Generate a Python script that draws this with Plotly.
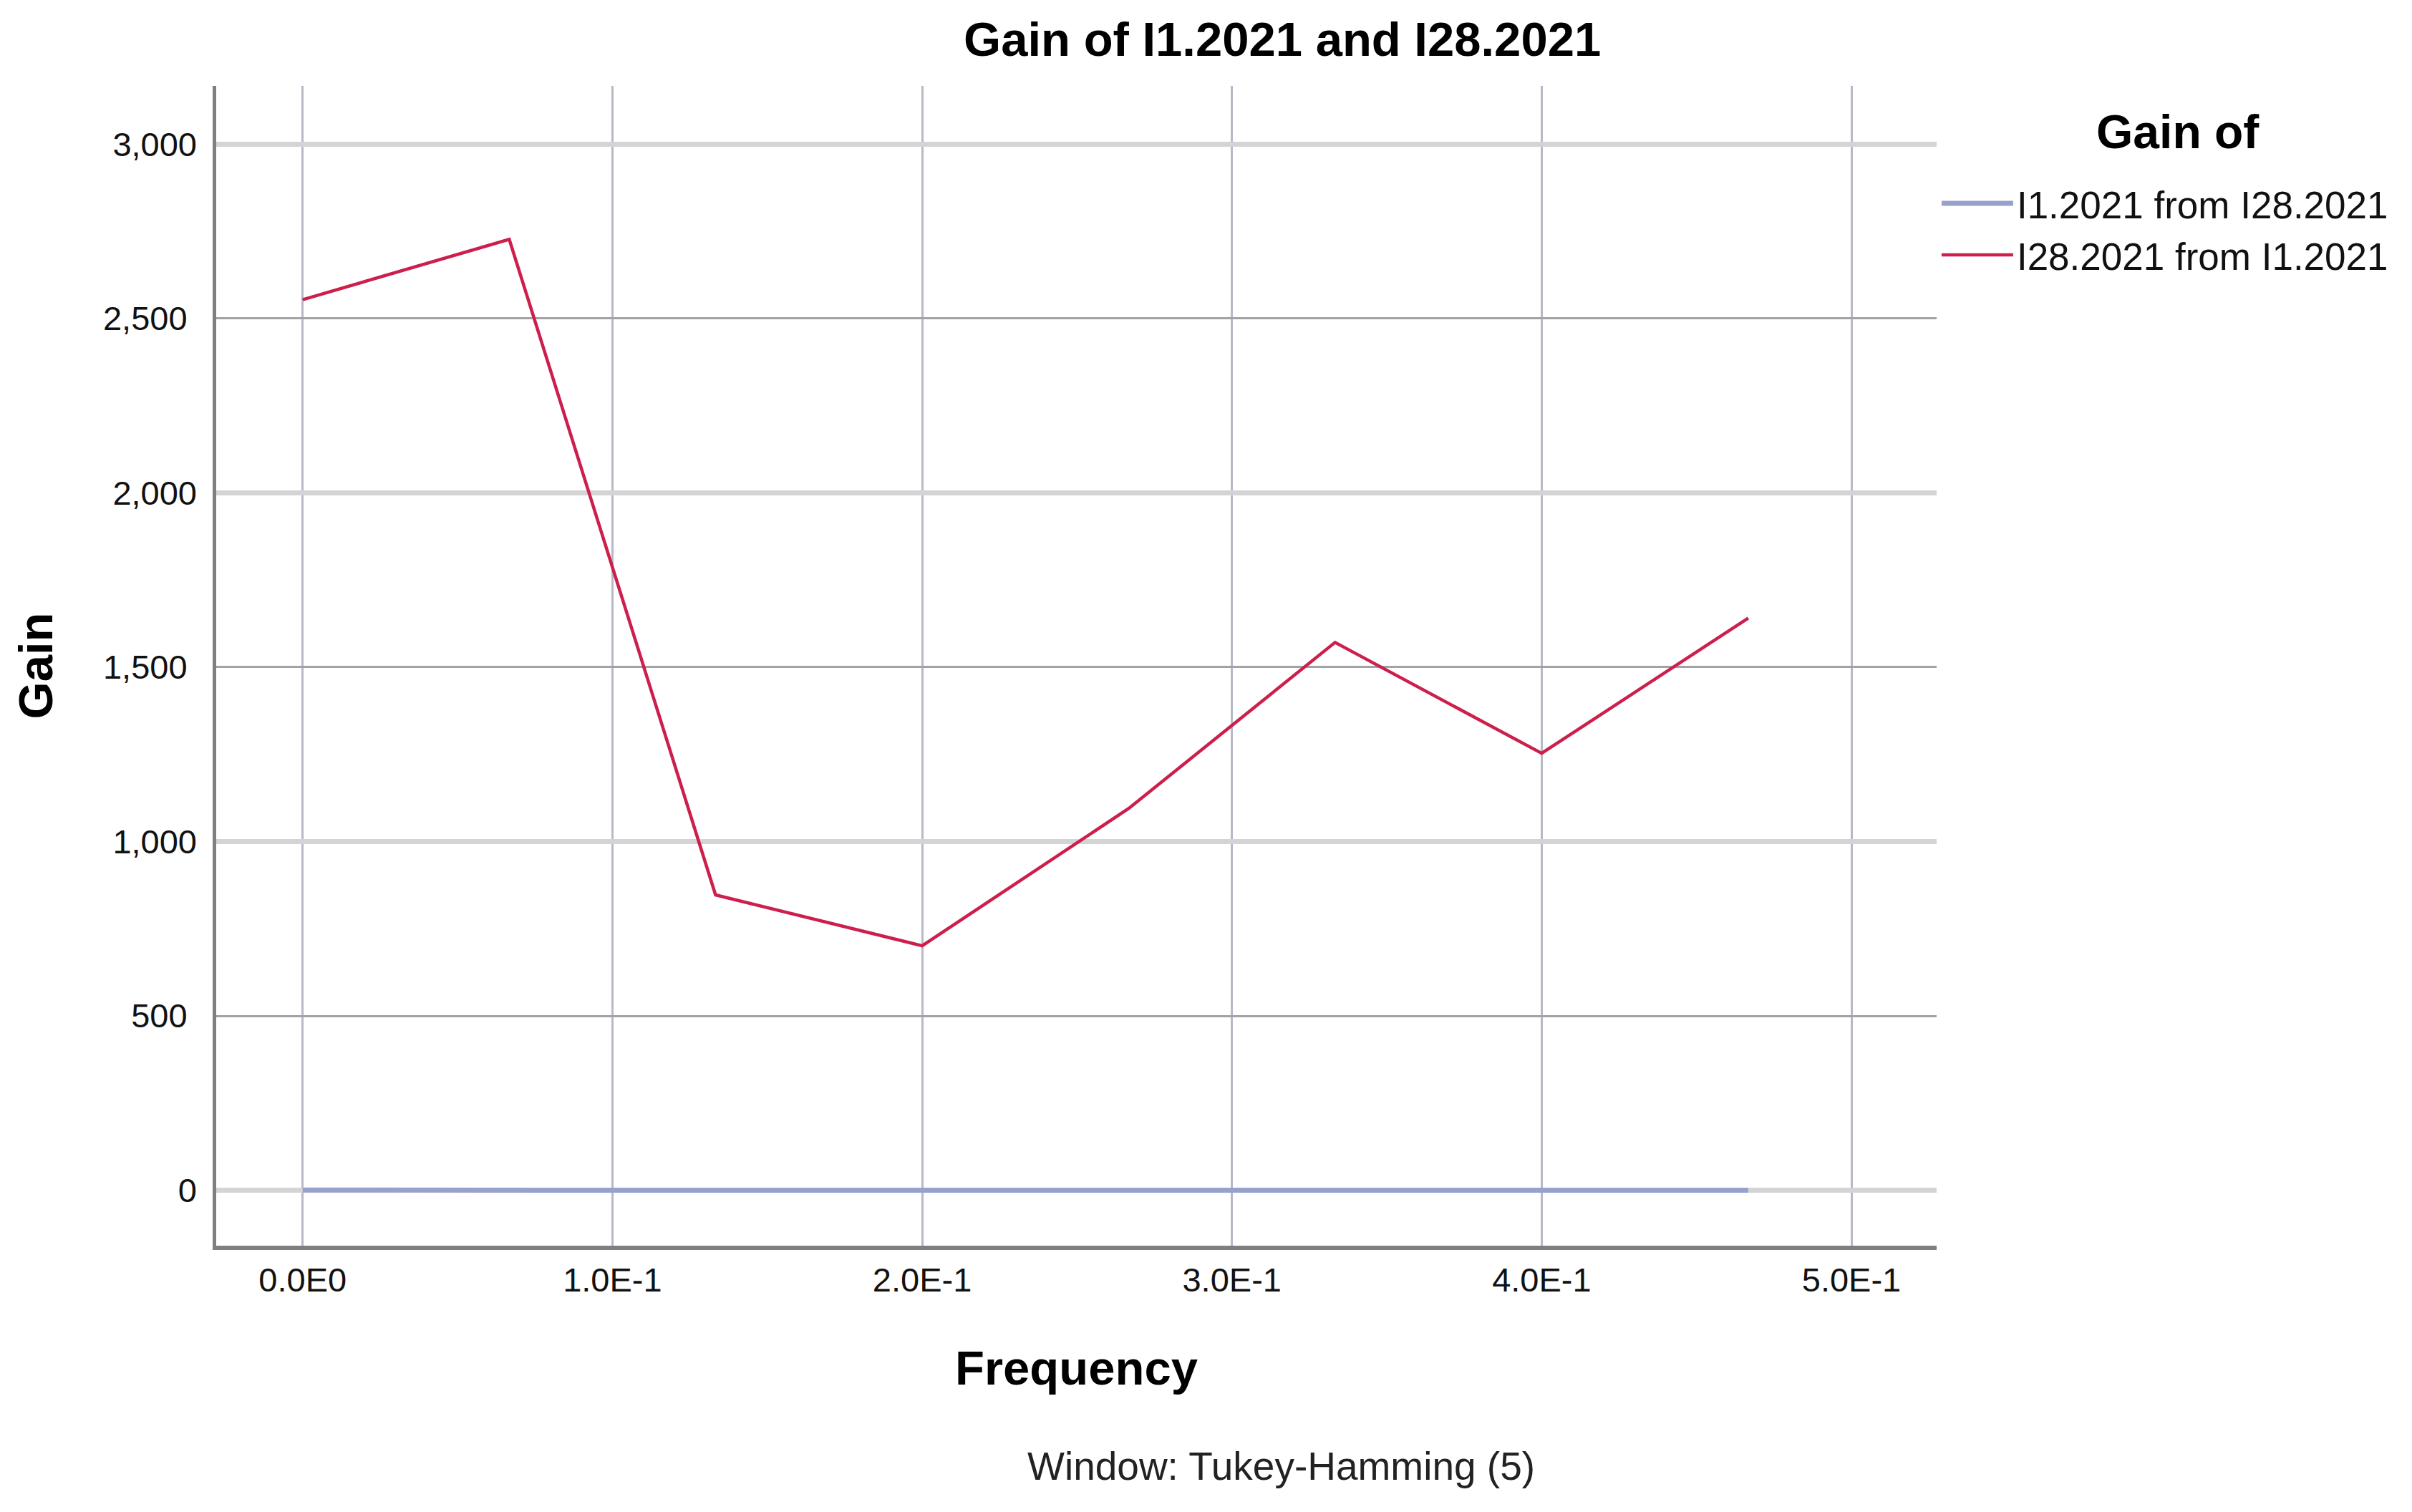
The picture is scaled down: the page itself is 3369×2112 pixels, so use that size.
import plotly.graph_objects as go

# Frequencies (cycles per observation) and the two gain series.
frequency = [0.0, 0.0667, 0.1333, 0.2, 0.2667, 0.3333, 0.4, 0.4667]
gain_i1_from_i28 = [0.4, 0.4, 0.2, 0.1, 0.2, 0.2, 0.1, 0.2]
gain_i28_from_i1 = [2554, 2727, 847, 701, 1095, 1571, 1253, 1641]

# Tick labels.
x_tickvals = [0.0, 0.1, 0.2, 0.3, 0.4, 0.5]
x_ticktext = ['0.0E0', '1.0E-1', '2.0E-1', '3.0E-1', '4.0E-1', '5.0E-1']
y_minor_vals = [500, 1500, 2500]
y_major_vals = [0, 1000, 2000, 3000]

FONT = 'Liberation Sans, Arial, sans-serif'
y_range = [-159, 3167]

fig = go.Figure()

# Gain lines.
fig.add_trace(go.Scatter(x=frequency, y=gain_i1_from_i28, mode='lines', name='I1.2021 from I28.2021',
                         line=dict(color='#97a1cb', width=7)))
fig.add_trace(go.Scatter(x=frequency, y=gain_i28_from_i1, mode='lines', name='I28.2021 from I1.2021',
                         line=dict(color='#cc1f4c', width=4.5)))
# Empty trace so the second y axis (thick grid lines) gets drawn.
fig.add_trace(go.Scatter(x=[], y=[], yaxis='y2', showlegend=False, hoverinfo='skip'))

fig.update_layout(
    width=3369, height=2112,
    margin=dict(l=294, r=672, t=112, b=380),
    paper_bgcolor='white', plot_bgcolor='white',
    font=dict(family=FONT, color='black'),
    title=dict(text='<b>Gain of I1.2021 and I28.2021</b>', font=dict(size=67, color='black'),
               xref='paper', x=0.6197, xanchor='center', yref='container', y=0.978, yanchor='middle'),
    xaxis=dict(range=[-0.0279, 0.5275], tickvals=x_tickvals, ticktext=x_ticktext,
               tickfont=dict(size=47, color='#111111'), ticks='', ticklabelstandoff=2,
               showgrid=True, gridcolor='#b6bac6', gridwidth=3, zeroline=False,
               showline=True, linecolor='#7f7f7f', linewidth=6, fixedrange=True,
               title=dict(text='<b>Frequency</b>', font=dict(size=67, color='black'), standoff=76)),
    yaxis=dict(range=y_range, tickvals=y_minor_vals, tickformat=',d',
               tickfont=dict(size=47, color='#111111'), ticks='', ticklabelstandoff=26,
               showgrid=True, gridcolor='#a3a3a3', gridwidth=3, zeroline=False,
               showline=True, linecolor='#7f7f7f', linewidth=5, fixedrange=True,
               title=dict(text='<b>Gain</b>', font=dict(size=67, color='black'), standoff=50)),
    yaxis2=dict(range=y_range, overlaying='y', side='left', anchor='x', tickvals=y_major_vals, tickformat=',d',
                tickfont=dict(size=47, color='#111111'), ticks='', ticklabelstandoff=26,
                showgrid=True, gridcolor='#d4d4d4', gridwidth=7, zeroline=False,
                showline=False, fixedrange=True),
    legend=dict(x=1.0008, xanchor='left', y=0.924, yanchor='top', bgcolor='rgba(0,0,0,0)',
                font=dict(size=53, color='#111111'), itemwidth=100),
    showlegend=True,
)

# Legend heading, centred over the legend entries.
fig.add_annotation(text='<b>Gain of</b>', xref='paper', yref='paper', x=1.1402, y=0.9605,
                   xanchor='center', yanchor='middle', showarrow=False, font=dict(size=66, color='black'))

# Footnote below the x axis title.
fig.add_annotation(text='Window: Tukey-Hamming (5)', xref='paper', yref='paper', x=0.619, y=-0.19,
                   xanchor='center', yanchor='middle', showarrow=False, font=dict(size=55, color='#222222'))

fig.write_html('out.html')
